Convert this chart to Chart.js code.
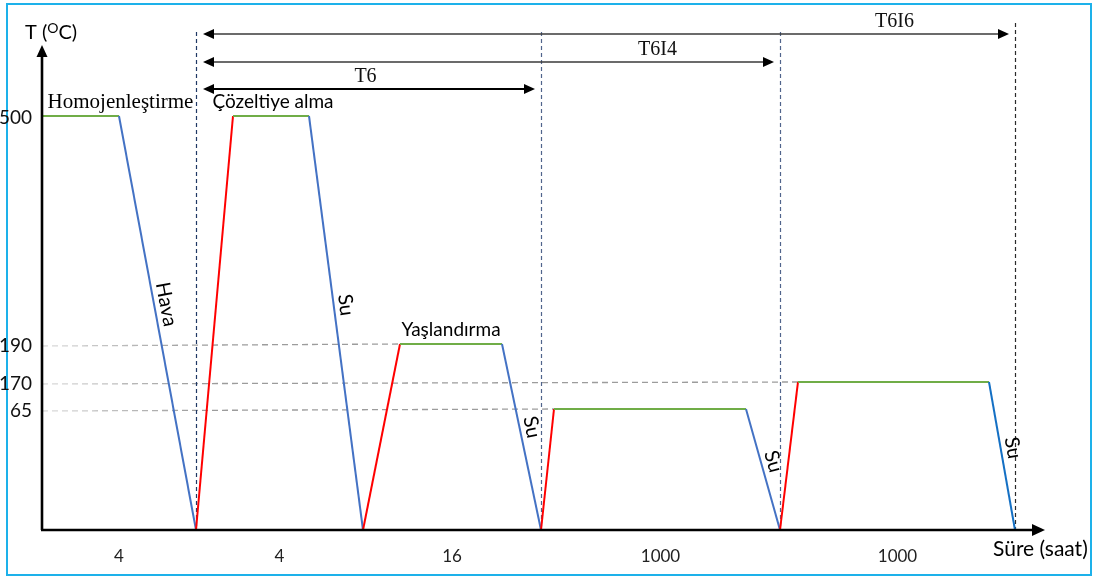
<!DOCTYPE html>
<html>
<head>
<meta charset="utf-8">
<script src="https://cdn.jsdelivr.net/npm/chart.js@4/dist/chart.umd.min.js"></script>
<style>
  html, body { margin: 0; padding: 0; background: #ffffff; }
  canvas { display: block; }
</style>
</head>
<body>
<canvas id="cycle" width="1097" height="577"></canvas>
<script>
// Heat-treatment cycle: schematic time vs temperature (°C)
const profileTime = [0, 77, 154, 191, 267, 321, 358, 460, 499, 512, 704, 738, 756, 947, 973];
const profileTemp = [500, 500, 0, 500, 500, 0, 190, 190, 0, 65, 65, 0, 170, 170, 0];

// stage boundaries on the time axis and the duration written under each stage
const stageBounds = [0, 154, 321, 499, 738, 973];
const stageDurations = ['4', '4', '16', '1000', '1000'];

// temperature axis labels and the dashed guide levels
const tempTicks = [500, 190, 170, 65];
const guideTemps = [190, 170, 65];

// treatment routes: each starts after homogenisation and ends after a quench
const routeNames = ['T6', 'T6I4', 'T6I6'];
const routeStart = [154, 154, 154];
const routeEnd = [499, 738, 973];

// names of the holds and of the cooling media
const holdNames = ['Homojenleştirme', 'Çözeltiye alma', 'Yaşlandırma'];
const coolingNames = ['Hava', 'Su', 'Su', 'Su', 'Su'];

const SANS = 'Lato, "Open Sans", sans-serif';
const SERIF = '"Liberation Serif", "DejaVu Serif", serif';

// Temperature axis of a schematic diagram: a piecewise-linear scale, so the
// low ageing temperatures are spread apart while 500 °C stays near the top.
class SchematicScale extends Chart.LinearScale {
  static id = 'schematic';
  _fraction(v) {
    const vs = this.options.levelValues, fs = this.options.levelFractions;
    if (v <= vs[0]) return fs[0];
    for (let i = 1; i < vs.length; i++) {
      if (v <= vs[i]) return fs[i - 1] + (v - vs[i - 1]) / (vs[i] - vs[i - 1]) * (fs[i] - fs[i - 1]);
    }
    const n = vs.length - 1;
    return fs[n] + (v - vs[n]) / (vs[n] - vs[n - 1]) * (fs[n] - fs[n - 1]);
  }
  getPixelForValue(v) { return this.getPixelForDecimal(this._fraction(v)); }
  getValueForPixel(p) {
    const f = this.getDecimalForPixel(p);
    const vs = this.options.levelValues, fs = this.options.levelFractions;
    for (let i = 1; i < fs.length; i++) {
      if (f <= fs[i]) return vs[i - 1] + (f - fs[i - 1]) / (fs[i] - fs[i - 1]) * (vs[i] - vs[i - 1]);
    }
    return vs[vs.length - 1];
  }
}
Chart.register(SchematicScale);

function arrowHead(c, x, y, dx, dy, len, half) {
  // filled triangle with its tip at (x, y) pointing along (dx, dy)
  const px = -dy, py = dx;
  c.beginPath();
  c.moveTo(x, y);
  c.lineTo(x - dx * len + px * half, y - dy * len + py * half);
  c.lineTo(x - dx * len - px * half, y - dy * len - py * half);
  c.closePath();
  c.fill();
}

const decor = {
  id: 'decor',
  beforeDraw(chart) {
    const c = chart.ctx;
    c.save();
    c.strokeStyle = '#1db1ea';
    c.lineWidth = 2;
    c.strokeRect(7, 4, 1084, 571);
    c.restore();
  },
  beforeDatasetsDraw(chart) {
    const c = chart.ctx, a = chart.chartArea, x = chart.scales.x, y = chart.scales.y;
    // dashed guides from the temperature axis to the start of each hold
    guideTemps.forEach(t => {
      const i = profileTemp.indexOf(t);
      const py = y.getPixelForValue(t) + 2;
      const px = x.getPixelForValue(profileTime[i]);
      const g = c.createLinearGradient(a.left, 0, a.left + 160, 0);
      g.addColorStop(0, '#dcdcdc');
      g.addColorStop(1, '#9c9c9c');
      c.save();
      c.strokeStyle = g;
      c.lineWidth = 1.3;
      c.setLineDash([6, 4]);
      c.beginPath();
      c.moveTo(a.left, py);
      c.lineTo(px, py - 2);
      c.stroke();
      c.restore();
    });
    // dashed stage markers
    const marks = [routeStart[0], ...routeEnd];
    const colors = ['#1f3864', '#50648c', '#50648c', '#2a2a2a'];
    const tops = [32, 32, 32, 23];
    marks.forEach((m, k) => {
      const px = Math.round(x.getPixelForValue(m)) + 0.5;
      c.save();
      c.strokeStyle = colors[k];
      c.lineWidth = 1.2;
      c.setLineDash([4, 3]);
      c.beginPath();
      c.moveTo(px, tops[k]);
      c.lineTo(px, a.bottom);
      c.stroke();
      c.restore();
    });
  },
  afterDatasetsDraw(chart) {
    const c = chart.ctx, a = chart.chartArea, x = chart.scales.x, y = chart.scales.y;
    const meta = chart.getDatasetMeta(0);
    c.save();

    // axes with arrow heads
    c.strokeStyle = '#000';
    c.fillStyle = '#000';
    c.lineWidth = 2.6;
    c.beginPath();
    c.moveTo(a.left, a.bottom);
    c.lineTo(a.left, a.top + 8);
    c.moveTo(a.left - 1, a.bottom);
    c.lineTo(a.right - 8, a.bottom);
    c.stroke();
    arrowHead(c, a.left, a.top, 0, -1, 12, 5.5);
    arrowHead(c, a.right, a.bottom, 1, 0, 13, 6);

    // axis titles
    c.textBaseline = 'middle';
    c.textAlign = 'left';
    c.font = `20px ${SANS}`;
    const w1 = c.measureText('T (').width;
    c.fillText('T (', 25, 33);
    c.font = `14px ${SANS}`;
    const w2 = c.measureText('O').width;
    c.fillText('O', 25 + w1, 28);
    c.font = `20px ${SANS}`;
    c.fillText('C)', 25 + w1 + w2, 33);
    c.font = `21px ${SANS}`;
    c.fillText('Süre (saat)', 993, 549);

    // route arrows
    const rowsY = [89, 62, 34];
    routeNames.forEach((name, k) => {
      const ry = rowsY[k];
      const x0 = x.getPixelForValue(routeStart[k]) + 7;
      const x1 = x.getPixelForValue(routeEnd[k]) - 6;
      c.strokeStyle = k === 0 ? '#000' : '#3a3a3a';
      c.lineWidth = k === 0 ? 2 : 1.5;
      c.beginPath();
      c.moveTo(x0 + 8, ry);
      c.lineTo(x1 - 8, ry);
      c.stroke();
      c.fillStyle = '#000';
      arrowHead(c, x0, ry, -1, 0, 11, 5);
      arrowHead(c, x1, ry, 1, 0, 11, 5);
      // the name sits over the last stage of the route
      const prev = k === 0 ? routeStart[k] : routeEnd[k - 1];
      const lx = (x.getPixelForValue(prev) + x.getPixelForValue(routeEnd[k])) / 2 - 3;
      c.font = `20px ${SERIF}`;
      c.textAlign = 'center';
      c.fillStyle = '#111';
      c.fillText(name, lx, ry - 12);
    });

    // hold names above the first three holds
    const holds = [];
    for (let i = 0; i < profileTemp.length - 1; i++) {
      if (profileTemp[i] > 0 && profileTemp[i] === profileTemp[i + 1]) holds.push(i);
    }
    const holdShift = [40, 2, 0];
    const holdFonts = [`21px ${SERIF}`, `19px ${SANS}`, `19px ${SANS}`];
    holdNames.forEach((name, k) => {
      const i = holds[k];
      const p0 = meta.data[i], p1 = meta.data[i + 1];
      c.font = holdFonts[k];
      c.textAlign = 'center';
      c.fillStyle = '#000';
      c.fillText(name, (p0.x + p1.x) / 2 + holdShift[k], Math.min(p0.y, p1.y) - 14);
    });

    // cooling media written along each falling line
    const falls = [];
    for (let i = 0; i < profileTemp.length - 1; i++) {
      if (profileTemp[i + 1] < profileTemp[i]) falls.push(i);
    }
    coolingNames.forEach((name, k) => {
      const i = falls[k];
      const p0 = meta.data[i], p1 = meta.data[i + 1];
      const dx = p1.x - p0.x, dy = p1.y - p0.y;
      const len = Math.hypot(dx, dy);
      const ang = Math.atan2(dy, dx);
      const t = 0.46;
      const off = 12;
      const cx = p0.x + dx * t + (dy / len) * off;
      const cy = p0.y + dy * t - (dx / len) * off;
      c.save();
      c.translate(cx, cy);
      c.rotate(ang);
      c.font = `20px ${SANS}`;
      c.textAlign = 'center';
      c.textBaseline = 'middle';
      c.fillStyle = '#000';
      c.fillText(name, 0, 0);
      c.restore();
    });

    c.restore();
  }
};

const points = profileTime.map((t, i) => ({ x: t, y: profileTemp[i] }));
const lastSeg = points.length - 2;

new Chart(document.getElementById('cycle'), {
  type: 'line',
  data: {
    datasets: [{
      data: points,
      borderWidth: 2,
      pointRadius: 0,
      tension: 0,
      fill: false,
      segment: {
        // heating red, holding green, cooling blue
        borderColor: ctx => {
          const a = ctx.p0.parsed.y, b = ctx.p1.parsed.y;
          if (b > a) return '#ff0000';
          if (b < a) return ctx.p0DataIndex === lastSeg ? '#1470c4' : '#4472c4';
          return '#70ad47';
        }
      }
    }]
  },
  options: {
    responsive: false,
    animation: false,
    devicePixelRatio: 1,
    events: [],
    clip: false,
    layout: { padding: { top: 45, right: 52, left: 0, bottom: 0 } },
    plugins: { legend: { display: false }, tooltip: { enabled: false } },
    scales: {
      x: {
        type: 'linear',
        min: 0,
        max: 1003,
        grid: { display: false },
        border: { display: false },
        afterFit: s => { s.height = 47; },
        afterBuildTicks: s => {
          s.ticks = stageDurations.map((_, i) => ({ value: (stageBounds[i] + stageBounds[i + 1]) / 2 }));
        },
        ticks: {
          autoSkip: false,
          maxRotation: 0,
          padding: 8,
          color: '#222',
          font: { family: SANS, size: 17 },
          callback: (v, i) => stageDurations[i]
        }
      },
      y: {
        type: 'schematic',
        min: 0,
        max: 500,
        levelValues: [0, 65, 170, 190, 500],
        levelFractions: [0, 0.2495, 0.3052, 0.3835, 0.8536],
        grid: { display: false },
        border: { display: false },
        afterFit: s => { s.width = 42; },
        afterBuildTicks: s => { s.ticks = tempTicks.map(v => ({ value: v })); },
        ticks: {
          padding: 2,
          labelOffset: 2,
          color: '#111',
          font: { family: SANS, size: 19 },
          callback: v => String(v)
        }
      }
    }
  },
  plugins: [decor]
});
</script>
</body>
</html>
